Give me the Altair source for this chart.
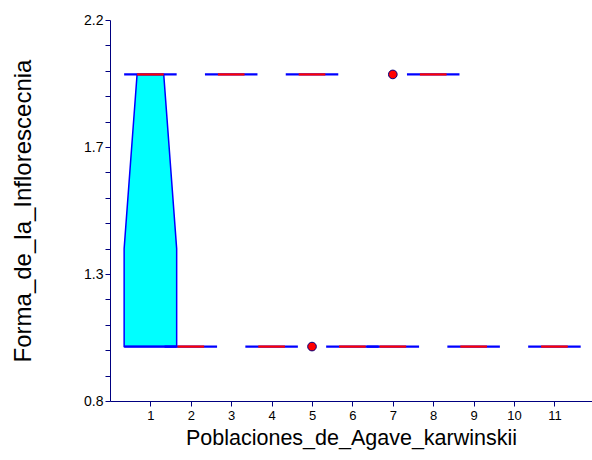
import altair as alt
import pandas as pd

# ---- data ----
populations = [1, 2, 3, 4, 5, 6, 7, 8, 9, 10, 11]
q1_vals     = [1, 1, 2, 1, 2, 1, 1, 2, 1, None, 1]
median_vals = [2, 1, 2, 1, 2, 1, 1, 2, 1, None, 1]
q3_vals     = [2, 1, 2, 1, 2, 1, 1, 2, 1, None, 1]
notch_low   = [1.36, 1, 2, 1, 2, 1, 1, 2, 1, None, 1]
outlier_pop = [5, 7]
outlier_val = [1, 2]
x_tick_labels = ["1", "2", "3", "4", "5", "6", "7", "8", "9", "10", "11"]
y_major_labels = ["0.8", "1.3", "1.7", "2.2"]

BOX_HALF = 0.65
MED_HALF = 0.33
Y_MIN, Y_MAX = 0.8, 2.2
N_MINOR = 15

# ---- tables ----
blue_rows, red_rows, area_rows = [], [], []
for p, a, m, b, nl in zip(populations, q1_vals, median_vals, q3_vals, notch_low):
    if a is None:
        continue
    for v in sorted(set([a, b])):
        blue_rows.append({"x": p - BOX_HALF, "x2": p + BOX_HALF, "y": v})
    red_rows.append({"x": p - MED_HALF, "x2": p + MED_HALF, "y": m})
    if a != b:
        area_rows += [
            {"x": p - BOX_HALF, "lo": a, "hi": nl},
            {"x": p - MED_HALF, "lo": a, "hi": b},
            {"x": p + MED_HALF, "lo": a, "hi": b},
            {"x": p + BOX_HALF, "lo": a, "hi": nl},
        ]
blue_df = pd.DataFrame(blue_rows)
red_df = pd.DataFrame(red_rows)
area_df = pd.DataFrame(area_rows)
out_df = pd.DataFrame({"pop": outlier_pop, "val": outlier_val})

y_ticks = [Y_MIN + i * (Y_MAX - Y_MIN) / N_MINOR for i in range(N_MINOR + 1)]
major_map = "{" + ",".join("'%d':'%s'" % (i * 5, s) for i, s in enumerate(y_major_labels)) + "}"
idx = "round((datum.value-%g)*%d/%g)" % (Y_MIN, N_MINOR, Y_MAX - Y_MIN)
y_label_expr = "%s %% 5 == 0 ? %s[''+%s] : ''" % (idx, major_map, idx)
x_map = "{" + ",".join("'%d':'%s'" % (p, s) for p, s in zip(populations, x_tick_labels)) + "}"

AX = "#000080"
FONT = "Liberation Sans"
xscale = alt.Scale(domain=[0, 11.93], nice=False, zero=False)
yscale = alt.Scale(domain=[Y_MIN, Y_MAX], nice=False, zero=False)

x_axis = alt.Axis(
    values=populations, labelExpr="%s[''+datum.value]" % x_map,
    title="Poblaciones_de_Agave_karwinskii", grid=False, domainColor=AX, tickColor=AX,
    tickSize=5, labelFontSize=13, labelColor="black", titleFontSize=21.5,
    titleFontWeight="normal", titleColor="black", labelFont=FONT,
    titleFont=FONT, titlePadding=5, labelPadding=3, labelFlush=False, labelOverlap=False,
)
y_axis = alt.Axis(
    values=y_ticks, labelExpr=y_label_expr, title="Forma_de_la_Inflorescecnia",
    grid=False, domainColor=AX, tickColor=AX, tickSize=5, labelFontSize=14,
    labelColor="black", titleFontSize=24, titleFontWeight="normal", titleColor="black",
    labelFont=FONT, titleFont=FONT, labelOverlap=False,
    labelFlush=False, titlePadding=48, labelPadding=2,
)

area = alt.Chart(area_df).mark_area(
    orient="vertical", fill="#00FFFF", stroke="#0000FF", strokeWidth=1.5,
    opacity=1, fillOpacity=1,
).encode(
    x=alt.X("x:Q", scale=xscale, axis=x_axis),
    y=alt.Y("hi:Q", scale=yscale, axis=y_axis, stack=None),
    y2="lo:Q",
)

blue = alt.Chart(blue_df).mark_rule(color="#0000FF", strokeWidth=2.2).encode(
    x=alt.X("x:Q", scale=xscale, axis=x_axis), x2="x2:Q",
    y=alt.Y("y:Q", scale=yscale, axis=y_axis)
)
red = alt.Chart(red_df).mark_rule(color="#FF0000", strokeWidth=2.2).encode(
    x=alt.X("x:Q", scale=xscale, axis=x_axis), x2="x2:Q",
    y=alt.Y("y:Q", scale=yscale, axis=y_axis)
)
outl = alt.Chart(out_df).mark_point(
    filled=True, fill="#FF0000", stroke="#000080", strokeWidth=1, size=75, opacity=1
).encode(
    x=alt.X("pop:Q", scale=xscale, axis=x_axis),
    y=alt.Y("val:Q", scale=yscale, axis=y_axis)
)

chart = alt.layer(area, blue, red, outl).properties(
    width=482, height=381,
    autosize=alt.AutoSizeParams(type="none"),
    padding={"left": 110, "top": 20, "right": 0, "bottom": 59},
    background="white",
).configure_view(stroke=None)

chart.save("out.html", embed_options={"renderer": "svg", "actions": False})
